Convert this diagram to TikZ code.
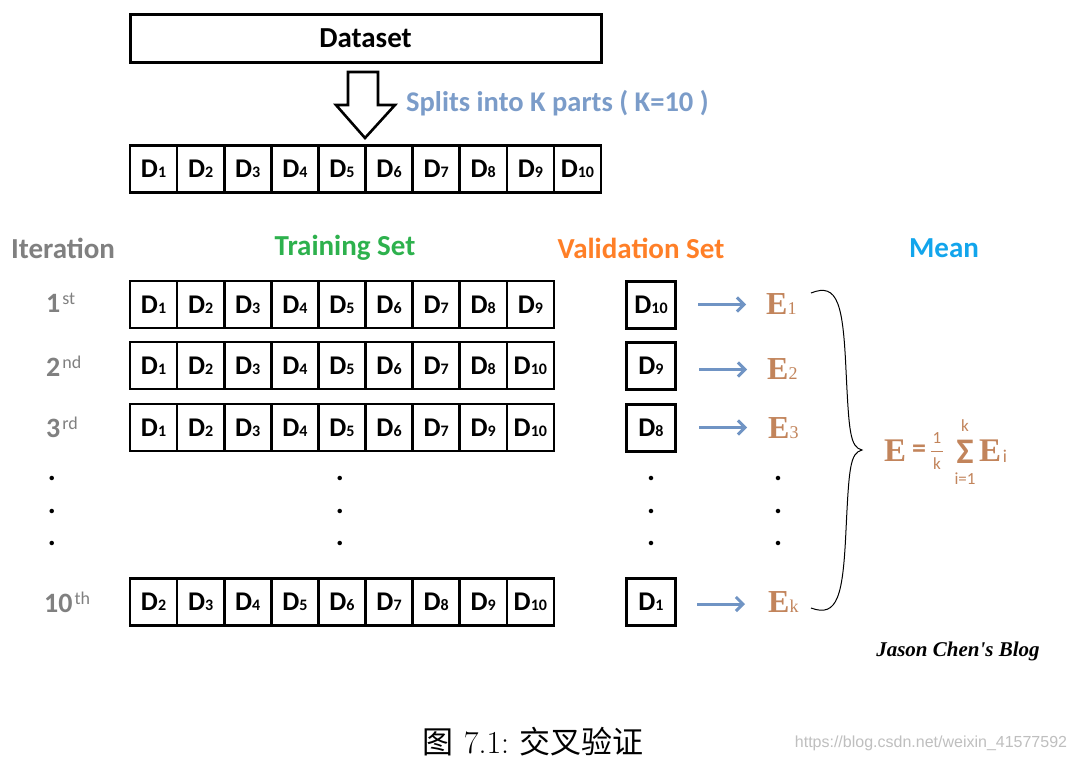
\documentclass[tikz,border=0pt]{standalone}
\usepackage{fontspec}
\setmainfont{Carlito}
\newfontfamily\cjk{Noto Sans CJK SC}
\newfontfamily\lms{Latin Modern Roman}
\newfontfamily\serifb{Liberation Serif}
\newfontfamily\wm{Liberation Sans}
\usetikzlibrary{arrows.meta}
\definecolor{itgray}{HTML}{808080}
\definecolor{trgreen}{HTML}{2DB14D}
\definecolor{vorange}{HTML}{FF7F27}
\definecolor{mblue}{HTML}{12A5EC}
\definecolor{splitblue}{HTML}{7B9CC9}
\definecolor{ebrown}{HTML}{C2845B}
\definecolor{arrblue}{HTML}{7094C4}
\newcommand{\Dlab}[1]{{\fontsize{27}{27}\selectfont\bfseries D}{\fontsize{16}{16}\selectfont\bfseries #1}}
\newcommand{\Elab}[1]{{\serifb\fontsize{32}{32}\selectfont\bfseries E}{\serifb\fontsize{18}{18}\selectfont #1}}
\newcommand{\Ord}[2]{{\fontsize{28}{28}\selectfont\bfseries #1}\hspace{2pt}\raisebox{8pt}{\fontsize{18}{18}\selectfont #2}}
\tikzset{
  cell/.style={draw, line width=2.6pt, minimum width=47.1pt, minimum height=47pt, inner sep=0pt, fill=white},
  hdr/.style={font=\fontsize{29}{29}\selectfont\bfseries, inner sep=0pt},
  ord/.style={text=itgray, inner sep=0pt, anchor=west},
  evarrow/.style={draw=arrblue, line width=3pt, -{Straight Barb[length=7pt,width=14pt,line width=3pt]}},
  elab/.style={text=ebrown, inner sep=0pt, anchor=west},
  vdot/.style={inner sep=0pt, font=\fontsize{30}{30}\selectfont\bfseries},
  fsm/.style={text=ebrown, inner sep=0pt, font=\fontsize{17}{17}\selectfont}
}
\begin{document}
\begin{tikzpicture}[x=1pt,y=-1pt]
\useasboundingbox (0,0) rectangle (1076,761);
\fill[white] (0,0) rectangle (1076,761);
% dataset
\node[draw, line width=3pt, minimum width=471pt, minimum height=48pt, inner sep=0pt] (ds) at (365.5,38) {\fontsize{29}{29}\selectfont\bfseries Dataset};
% hollow arrow
\coordinate (arrtip) at (365,138);
\draw[line width=2.6pt, line join=miter, fill=white] (348,72) -- (378,72) -- (378,105) -- (395,105) -- (arrtip) -- (336,105) -- (348,105) -- cycle;
\node[anchor=west, inner sep=0pt, text=splitblue, font=\fontsize{28.5}{28.5}\selectfont\bfseries] (split) at (406,103) {Splits into K parts ( K=10 )};
% top split row
\foreach \i in {1,...,10}{
  \node[cell] (t\i) at ({130+47.1*(\i-0.5)},169) {\Dlab{\i}};
}
% headers
\node[hdr, text=itgray] (hit) at (63,248) {Iteration};
\node[hdr, text=trgreen] (htr) at (345,248) {Training Set};
\node[hdr, text=vorange] (hva) at (641,248) {Validation Set};
\node[hdr, text=mblue] (hme) at (944,248) {Mean};
% rows
\node[ord] (o1) at (46,303) {\Ord{1}{st}};
\node[ord] (o2) at (46,366) {\Ord{2}{nd}};
\node[ord] (o3) at (46,427) {\Ord{3}{rd}};
\node[ord] (o10) at (44,602) {\Ord{10}{th}};
\foreach \i [count=\c] in {1,2,3,4,5,6,7,8,9}{
  \node[cell] (a\c) at ({130+47.1*(\c-0.5)},304.5) {\Dlab{\i}};
}
\foreach \i [count=\c] in {1,2,3,4,5,6,7,8,10}{
  \node[cell] (b\c) at ({130+47.1*(\c-0.5)},365.5) {\Dlab{\i}};
}
\foreach \i [count=\c] in {1,2,3,4,5,6,7,9,10}{
  \node[cell] (c\c) at ({130+47.1*(\c-0.5)},427.5) {\Dlab{\i}};
}
\foreach \i [count=\c] in {2,3,4,5,6,7,8,9,10}{
  \node[cell] (d\c) at ({130+47.1*(\c-0.5)},602) {\Dlab{\i}};
}
% validation boxes
\node[cell, minimum width=49pt, line width=3pt] (va) at (651,304.5) {\Dlab{10}};
\node[cell, minimum width=49pt, line width=3pt] (vb) at (651,365.5) {\Dlab{9}};
\node[cell, minimum width=49pt, line width=3pt] (vc) at (651,427.5) {\Dlab{8}};
\node[cell, minimum width=49pt, line width=3pt] (vd) at (651,602) {\Dlab{1}};
% errors
\node[elab] (ea) at (766,304) {\Elab{1}};
\node[elab] (eb) at (767,369) {\Elab{2}};
\node[elab] (ec) at (768,428) {\Elab{3}};
\node[elab] (ed) at (768,602) {\Elab{k}};
\draw[evarrow] (va.east) ++(21,0) coordinate (sa) (sa) -- ++(48,0);
\draw[evarrow] (vb.east) ++(22,4) coordinate (sb) (sb) -- ++(48,0);
\draw[evarrow] (vc.east) ++(22,0) coordinate (sc) (sc) -- ++(48,0);
\draw[evarrow] (vd.east) ++(20,2) coordinate (sd) (sd) -- ++(48,0);
% dots
\foreach \y in {478,511,543}{
  \node[vdot] at (52,\y) {.};
  \node[vdot] at (340,\y) {.};
  \node[vdot] at (651,\y) {.};
  \node[vdot] at (778,\y) {.};
}
% brace
\coordinate (bt) at (811,293);
\coordinate (btip) at (862,450);
\coordinate (bb) at (811,608);
\draw[line width=1pt] (bt) .. controls (838,282) and (843,305) .. (846,370)
  .. controls (849,432) and (850,447) .. (btip)
  .. controls (850,453) and (849,468) .. (846,530)
  .. controls (843,595) and (838,618) .. (bb);
% formula
\node[text=ebrown, inner sep=0pt, font=\serifb\fontsize{33}{33}\selectfont\bfseries] (fE) at (895,451) {E};
\node[text=ebrown, inner sep=0pt, font=\fontsize{28}{28}\selectfont\bfseries] (feq) at (919,451) {=};
\node[fsm] (fnum) at (937,438) {1};
\node[fsm] (fden) at (937,464) {k};
\draw[ebrown, line width=0.8pt] (931,451) -- (943,451);
\node[text=ebrown, inner sep=0pt, font=\fontsize{36}{36}\selectfont\bfseries] (fsig) at (965,452) {Σ};
\node[fsm] (fup) at (965,426) {k};
\node[fsm] (flo) at (965,479) {i=1};
\node[text=ebrown, inner sep=0pt, font=\serifb\fontsize{33}{33}\selectfont\bfseries] (fE2) at (990,451) {E};
\node[fsm, font=\fontsize{18}{18}\selectfont] (fi) at (1005,456) {i};
% signature
\node[inner sep=0pt, font=\serifb\fontsize{21}{21}\selectfont\bfseries\itshape] (sig) at (958,651) {Jason Chen's Blog};
% caption
\node[inner sep=0pt] (cap) at (533,742) {{\cjk\fontsize{31}{31}\selectfont 图}\hspace{10pt}{\lms\fontsize{32}{32}\selectfont 7.1:}\hspace{10pt}{\cjk\fontsize{31}{31}\selectfont 交叉验证}};
\node[inner sep=0pt, text=black!25, font=\wm\fontsize{16}{16}\selectfont] (wmk) at (931,743) {https://blog.csdn.net/weixin\_41577592};
\end{tikzpicture}
\end{document}
